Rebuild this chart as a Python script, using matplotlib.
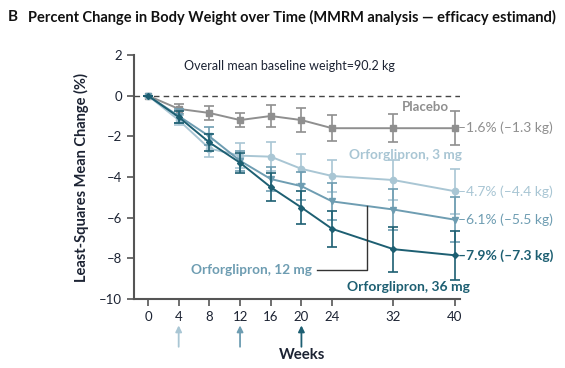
import matplotlib
matplotlib.use("Agg")
import matplotlib.pyplot as plt

plt.rcParams['font.family'] = ['Lato', 'DejaVu Sans']

weeks = [0, 4, 8, 12, 16, 20, 24, 32, 40]
xticks = [0, 4, 8, 12, 16, 20, 24, 32, 40]
yticks = [2, 0, -2, -4, -6, -8, -10]

placebo = [0, -0.65, -0.85, -1.2, -1.0, -1.2, -1.6, -1.6, -1.6]
placebo_err = [0, 0.25, 0.35, 0.35, 0.55, 0.6, 0.65, 0.7, 0.85]
mg3 = [0, -1.2, -2.6, -2.95, -3.0, -3.6, -3.95, -4.15, -4.7]
mg3_err = [0, 0.25, 0.4, 0.6, 0.7, 0.75, 0.8, 1.0, 1.1]
mg12 = [0, -1.0, -2.0, -3.2, -4.1, -4.45, -5.2, -5.6, -6.1]
mg12_err = [0, 0.35, 0.45, 0.5, 0.6, 0.7, 0.9, 1.0, 1.1]
mg36 = [0, -1.05, -2.3, -3.3, -4.5, -5.5, -6.55, -7.55, -7.85]
mg36_err = [0, 0.3, 0.4, 0.5, 0.7, 0.8, 0.9, 1.1, 1.2]

end_labels = ["\u20131.6% (\u20131.3 kg)", "\u20134.7% (\u20134.4 kg)",
              "\u20136.1% (\u20135.5 kg)", "\u20137.9% (\u20137.3 kg)"]
series_names = ["Placebo", "Orforglipron, 3 mg", "Orforglipron, 12 mg", "Orforglipron, 36 mg"]

c_pl = '#8f8f8f'
c3 = '#a9c6d4'
c12 = '#6e9db2'
c36 = '#1d5f72'
txt = '#1c2333'

fig = plt.figure(figsize=(5.65, 3.68), dpi=100)
ax = fig.add_axes([134/565, (368-299)/368, (460-134)/565, (299-55)/368])

ax.set_xlim(-14/7.675, 312/7.675 + 0.02)
ax.set_ylim(-10, 2)

ax.axhline(0, color='#444444', lw=1, ls=(0, (4, 3)), zorder=1)

specs = [(placebo, placebo_err, c_pl, 's', 4),
         (mg3, mg3_err, c3, 'o', 4.5),
         (mg12, mg12_err, c12, 'v', 4.5),
         (mg36, mg36_err, c36, 'D', 3)]
for i, (vals, errs, col, mk, ms) in enumerate(specs):
    ax.errorbar(weeks, vals, yerr=errs, color=col, lw=1.4, marker=mk, ms=ms,
                capsize=3.5, elinewidth=1.2, capthick=1.2, zorder=2 + i)

for vals, col, lab, bold in [(placebo, c_pl, end_labels[0], False),
                              (mg3, c3, end_labels[1], False),
                              (mg12, c12, end_labels[2], False),
                              (mg36, c36, end_labels[3], True)]:
    ax.text(40.45, vals[-1], lab, color=col, fontsize=10,
            fontweight='bold' if bold else 'normal', ha='left', va='center', clip_on=False)

ax.text(39.3, -0.55, series_names[0], color=c_pl, fontsize=9.5, fontweight='bold', ha='right', va='center')
ax.text(40.9, -2.9, series_names[1], color=c3, fontsize=9.8, fontweight='bold', ha='right', va='center')
ax.text(21.4, -8.56, series_names[2], color=c12, fontsize=9.8, fontweight='bold', ha='right', va='center')
ax.text(42.0, -9.4, series_names[3], color=c36, fontsize=10, fontweight='bold', ha='right', va='center', clip_on=False)
ax.plot([22.0, 28.5, 28.5], [-8.56, -8.56, -5.41], color='#333333', lw=1, zorder=10)

ax.text(18.5, 1.45, "Overall mean baseline weight=90.2 kg", color=txt, fontsize=9, ha='center', va='center')

for wk, col in [(4, c3), (12, c12), (20, c36)]:
    ax.annotate('', xy=(wk, -11.3), xytext=(wk, -12.35), xycoords='data',
                arrowprops=dict(arrowstyle='-|>', color=col, lw=1.3, mutation_scale=9,
                                shrinkA=0, shrinkB=0),
                annotation_clip=False)

ax.text(20.1, -12.75, "Weeks", color=txt, fontsize=10.8, fontweight='bold', ha='center', va='center')
ax.set_ylabel("Least-Squares Mean Change (%)", color=txt, fontsize=10.5, fontweight='bold', labelpad=7)

ax.set_xticks(xticks)
ax.set_xticklabels([str(t) for t in xticks])
ax.set_yticks(yticks)
ax.set_yticklabels([str(t).replace('-', '\u2013') for t in yticks])
ax.tick_params(colors='#555555', labelcolor=txt, labelsize=9.5, length=5, width=1.2)
for s in ['top', 'right']:
    ax.spines[s].set_visible(False)
for s in ['left', 'bottom']:
    ax.spines[s].set_color('#555555')
    ax.spines[s].set_linewidth(1.5)

fig.text(8/565, 1 - 17/368, "B", fontsize=11, fontweight='bold', color='#111111', va='center')
fig.text(28/565, 1 - 17/368, "Percent Change in Body Weight over Time (MMRM analysis \u2014 efficacy estimand)",
         fontsize=10.5, fontweight='bold', color='#111111', va='center')

fig.savefig("out.png", dpi=100)
